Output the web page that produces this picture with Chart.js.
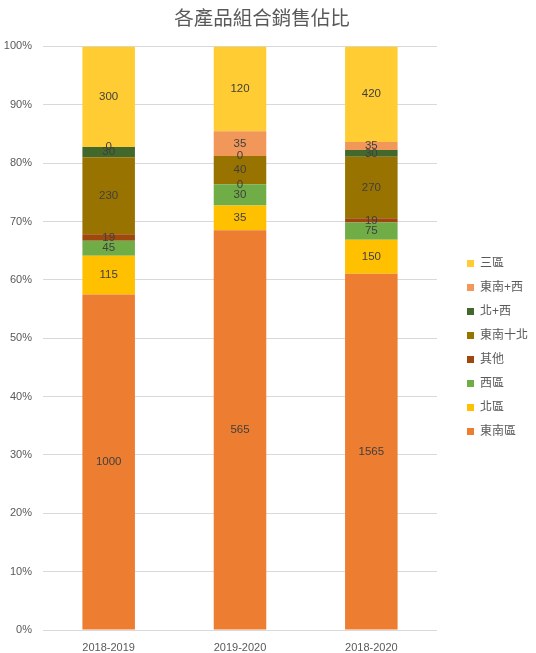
<!DOCTYPE html>
<html>
<head>
<meta charset="utf-8">
<script src="https://cdn.jsdelivr.net/npm/chart.js@4.4.1/dist/chart.umd.min.js"></script>
<style>
  html, body { margin: 0; padding: 0; background: #fff; }
  #wrap { width: 536px; height: 653px; }
</style>
</head>
<body>
<div id="wrap"><canvas id="salesChart" width="536" height="653"></canvas></div>
<script>
// 類別與各系列原始數值
const categories = ['2018-2019', '2019-2020', '2018-2020'];
const southEast = [1000, 565, 1565];     // 東南區
const north = [115, 35, 150];            // 北區
const west = [45, 30, 75];               // 西區
const other = [19, 0, 19];               // 其他
const southEastNorth = [230, 40, 270];   // 東南十北
const northWest = [30, 0, 30];           // 北+西
const southEastWest = [0, 35, 35];       // 東南+西
const threeRegions = [300, 120, 420];    // 三區
const yTicks = [0, 10, 20, 30, 40, 50, 60, 70, 80, 90, 100];

const series = [
    { name: '東南區', values: southEast, color: '#ED7D31' },
    { name: '北區', values: north, color: '#FFC000' },
    { name: '西區', values: west, color: '#70AD47' },
    { name: '其他', values: other, color: '#9E480E' },
    { name: '東南十北', values: southEastNorth, color: '#997300' },
    { name: '北+西', values: northWest, color: '#43682B' },
    { name: '東南+西', values: southEastWest, color: '#F1975A' },
    { name: '三區', values: threeRegions, color: '#FFCD33' }
];

// 每個類別的總和，用來換算百分比
const totals = categories.map((c, i) => series.reduce((s, d) => s + d.values[i], 0));

const FONT = '"Liberation Sans", "Noto Sans CJK TC", sans-serif';

// 在每一段中央寫出原始數值
const valueLabels = {
    id: 'valueLabels',
    afterDatasetsDraw(chart) {
        const ctx = chart.ctx;
        ctx.save();
        ctx.font = '11.5px ' + FONT;
        ctx.fillStyle = '#404040';
        ctx.textAlign = 'center';
        ctx.textBaseline = 'middle';
        chart.data.datasets.forEach((ds, di) => {
            const meta = chart.getDatasetMeta(di);
            meta.data.forEach((bar, i) => {
                const p = bar.getProps(['x', 'y', 'base'], true);
                ctx.fillText(String(ds.rawValues[i]), p.x, (p.y + p.base) / 2);
            });
        });
        ctx.restore();
    }
};

// 調整圖例寬度與位置
const legendPlace = {
    id: 'legendPlace',
    beforeInit(chart) {
        const fit = chart.legend.fit;
        chart.legend.fit = function () {
            fit.bind(chart.legend)();
            this.width = 87;
        };
    },
    afterLayout(chart) {
        const lg = chart.legend;
        lg.left += 18;
        lg.right += 18;
        lg.top += 21;
        lg.bottom += 21;
    }
};

new Chart(document.getElementById('salesChart'), {
    type: 'bar',
    data: {
        labels: categories,
        datasets: series.map(d => ({
            label: d.name,
            rawValues: d.values,
            data: d.values.map((v, i) => v / totals[i] * 100),
            backgroundColor: d.color,
            borderWidth: 0,
            barPercentage: 0.4,
            categoryPercentage: 1
        }))
    },
    options: {
        responsive: false,
        animation: false,
        layout: { padding: { left: 0, right: 12, top: 0, bottom: 0 } },
        plugins: {
            tooltip: { enabled: false },
            title: {
                display: true,
                text: '各產品組合銷售佔比',
                color: '#595959',
                font: { family: FONT, size: 19.5, weight: 'normal' },
                padding: { top: 8, bottom: 15 }
            },
            legend: {
                position: 'right',
                reverse: true,
                labels: {
                    boxWidth: 7,
                    boxHeight: 7,
                    padding: 12,
                    color: '#595959',
                    font: { family: FONT, size: 12 }
                }
            }
        },
        scales: {
            x: {
                stacked: true,
                grid: { display: false },
                border: { display: false },
                ticks: { color: '#595959', font: { family: FONT, size: 11 }, padding: 3 },
                afterFit(scale) { scale.height = 23; }
            },
            y: {
                stacked: true,
                min: 0,
                max: 100,
                afterBuildTicks(scale) {
                    scale.ticks = yTicks.map(v => ({ value: v }));
                },
                afterFit(scale) { scale.width = 43; },
                grid: { color: '#D9D9D9', drawTicks: false },
                border: { display: false },
                ticks: {
                    color: '#595959',
                    font: { family: FONT, size: 11 },
                    padding: 11,
                    callback: v => v + '%'
                }
            }
        }
    },
    plugins: [valueLabels, legendPlace]
});
</script>
</body>
</html>
